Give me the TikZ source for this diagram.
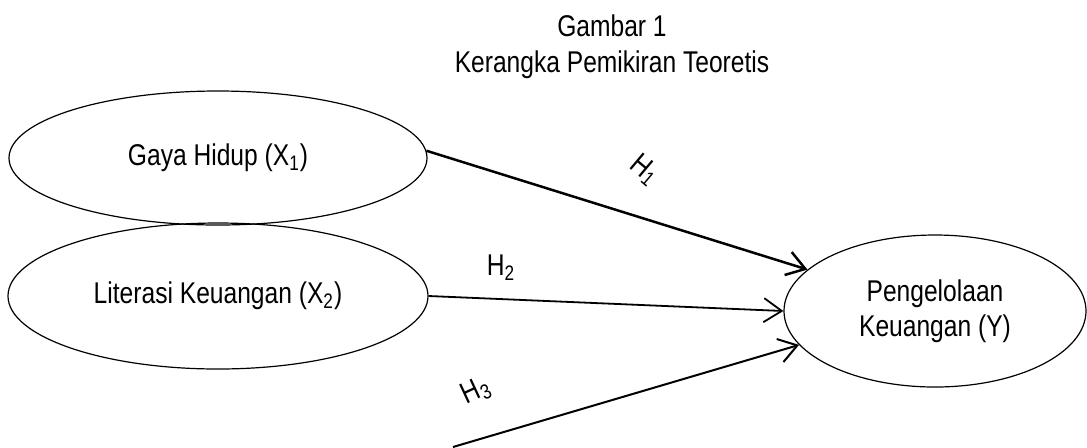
\documentclass[tikz,border=0pt]{standalone}
\usepackage{fontspec}
\setmainfont{Liberation Sans}[FakeStretch=0.82]
\usetikzlibrary{shapes.geometric,arrows.meta}
\begin{document}
\begin{tikzpicture}[x=0.5pt,y=-0.5pt,
  every node/.style={font=\fontsize{15}{17.5}\selectfont},
  var/.style={ellipse, draw, line width=0.6pt, inner sep=0pt},
  link/.style={-{Straight Barb[length=9pt,width=12pt]}},
  hyp/.style={inner sep=0pt}]
\useasboundingbox (0,0) rectangle (1087,447);
\node[align=center, font=\fontsize{15}{18}\selectfont] (title) at (612,47) {Gambar 1\\Kerangka Pemikiran Teoretis};
\node[var, minimum width=209pt, minimum height=67pt] (g) at (218,158) {Gaya Hidup (X\textsubscript{1})};
\node[var, minimum width=210pt, minimum height=73pt] (l) at (218,296) {Literasi Keuangan (X\textsubscript{2})};
\node[var, minimum width=151pt, minimum height=76pt, align=center] (y) at (935,311) {Pengelolaan\\Keuangan (Y)};
\coordinate (s3) at (453,447);
\draw[link, line width=1.25pt] (g.2) -- (y.162);
\draw[link, line width=0.9pt] (l.east) -- (y.west);
\draw[link, line width=1pt] (s3) -- (y.194);
\node[hyp, rotate=-40] (h1) at (645,170) {H\textsubscript{1}};
\node[hyp] (h2) at (501,268) {H\textsubscript{2}};
\node[hyp, rotate=25] (h3) at (476,391) {H\textsubscript{3}};
\end{tikzpicture}
\end{document}
